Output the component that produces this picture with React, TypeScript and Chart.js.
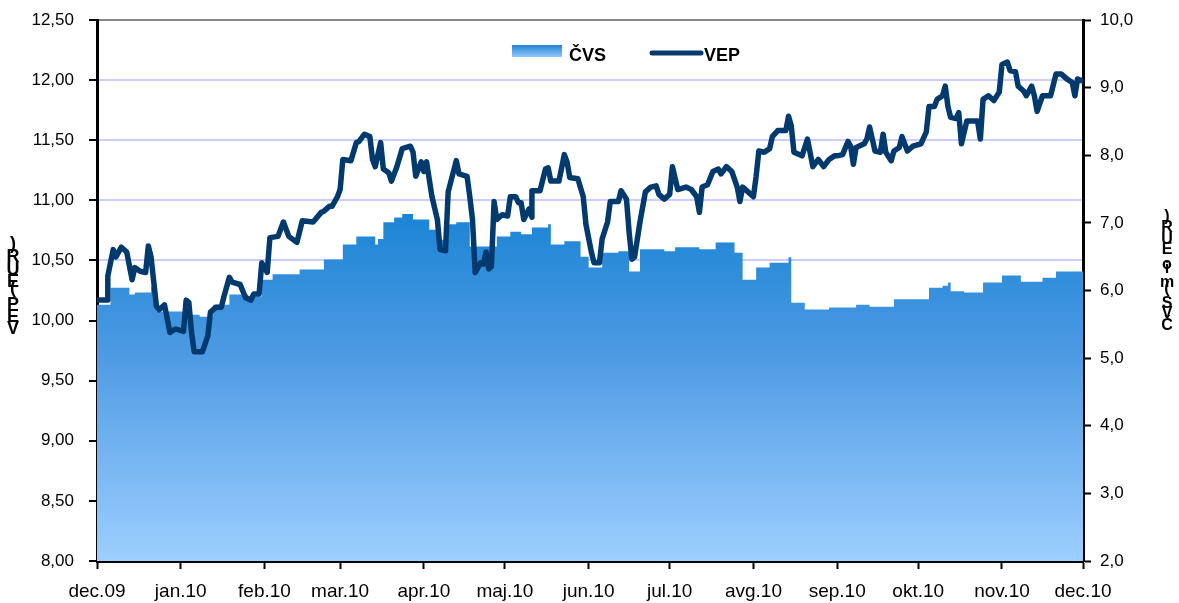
import React, { useEffect, useRef } from 'react';
import { Chart, registerables } from 'chart.js';

Chart.register(...registerables);

// Month tick positions (days since 1 Dec 2009) and labels
const monthDays = [0, 31, 62, 90, 121, 151, 182, 212, 243, 274, 304, 335, 365];
const monthLabels = ['dec.09', 'jan.10', 'feb.10', 'mar.10', 'apr.10', 'maj.10', 'jun.10', 'jul.10', 'avg.10', 'sep.10', 'okt.10', 'nov.10', 'dec.10'];

// VEP (EUR) – left axis
const vepDays = [0,4,4,6,7,9,11,13,14,16,18,19,20,22,23,25,27,29,32,33,34,35,36,39,41,42,44,46,47,49,50,53,55,57,58,60,61,63,64,67,69,71,74,76,80,83,84,86,87,89,90,91,94,96,97,99,101,102,103,105,106,108,109,111,113,116,117,118,120,121,122,124,126,127,129,130,133,134,137,138,139,140,142,143,144,145,146,147,148,150,152,153,155,156,157,158,160,161,161,164,166,167,168,171,173,174,175,178,180,181,183,184,186,187,189,190,193,194,196,197,198,199,201,203,205,207,208,210,212,213,215,218,220,222,223,224,226,228,230,231,233,235,237,238,239,241,243,244,245,247,249,250,252,255,256,257,258,261,263,265,267,269,271,273,274,276,278,279,280,281,284,285,286,287,288,290,291,292,294,295,297,298,300,302,305,307,308,310,311,313,314,315,316,318,319,320,322,324,326,327,328,330,332,334,335,337,338,340,341,343,344,346,347,348,350,353,355,357,359,361,362,363,365];
const vepValues = [10.17,10.17,10.37,10.59,10.53,10.61,10.57,10.34,10.44,10.41,10.40,10.62,10.53,10.12,10.09,10.13,9.90,9.93,9.91,10.17,10.15,9.90,9.74,9.74,9.87,10.07,10.11,10.11,10.20,10.36,10.32,10.30,10.19,10.17,10.22,10.22,10.48,10.40,10.69,10.70,10.82,10.70,10.65,10.83,10.82,10.90,10.91,10.95,10.95,11.03,11.09,11.34,11.33,11.48,11.49,11.55,11.53,11.34,11.28,11.48,11.26,11.23,11.16,11.28,11.43,11.45,11.40,11.20,11.32,11.24,11.32,11.03,10.84,10.59,10.58,11.07,11.33,11.22,11.20,11.03,10.84,10.40,10.48,10.47,10.57,10.43,10.45,10.99,10.84,10.88,10.87,11.03,11.03,10.98,10.98,10.84,10.93,10.86,11.08,11.08,11.26,11.27,11.16,11.16,11.38,11.32,11.19,11.18,11.03,10.80,10.57,10.48,10.48,10.68,10.82,10.99,10.99,11.08,11.01,10.73,10.51,10.53,10.82,11.07,11.11,11.12,11.05,11.01,11.05,11.28,11.09,11.11,11.09,11.03,10.90,11.11,11.13,11.24,11.26,11.22,11.28,11.24,11.11,10.99,11.11,11.07,11.03,11.20,11.41,11.40,11.43,11.53,11.58,11.58,11.70,11.62,11.40,11.37,11.51,11.28,11.34,11.28,11.34,11.37,11.37,11.38,11.49,11.45,11.30,11.44,11.47,11.51,11.61,11.51,11.41,11.40,11.55,11.40,11.33,11.41,11.44,11.53,11.41,11.45,11.47,11.57,11.78,11.78,11.84,11.87,11.95,11.78,11.69,11.68,11.73,11.47,11.66,11.66,11.66,11.51,11.84,11.87,11.83,11.90,12.13,12.15,12.08,12.07,11.95,11.91,11.87,11.95,11.87,11.74,11.87,11.87,12.05,12.05,12.01,11.98,11.87,12.01,11.99];

// ČVS (mio EUR) – right axis
const cvsDays = [0,5,12,14,20,22,34,38,43,49,56,61,65,75,84,91,96,103,104,106,110,113,117,123,126,130,133,138,148,153,157,161,167,168,173,179,182,187,193,197,201,210,214,223,229,236,239,244,249,256,257,262,271,281,286,295,308,313,315,316,321,328,335,342,350,355,365];
const cvsValues = [5.79,6.04,5.94,5.97,6.06,5.69,5.64,5.61,5.79,5.94,5.91,6.16,6.24,6.31,6.46,6.68,6.80,6.68,6.76,7.01,7.08,7.13,7.05,6.90,6.75,6.98,7.01,6.65,6.80,6.87,6.83,6.93,6.98,6.68,6.73,6.50,6.34,6.56,6.58,6.28,6.61,6.58,6.64,6.61,6.71,6.56,6.16,6.34,6.41,6.49,5.82,5.72,5.75,5.79,5.76,5.87,6.04,6.07,6.12,5.99,5.97,6.12,6.22,6.13,6.19,6.28,6.28];

const leftTitle = 'VEP (EUR)';
const rightTitle = 'ČVS (mio EUR)';
const seriesNames = ['ČVS', 'VEP'];

const FONT = '"Liberation Sans", Arial, sans-serif';
const LINE_COLOR = '#033a6e';

function stackedTitle(ctx: CanvasRenderingContext2D, text: string, cx: number, bottom: number, size: number) {
  ctx.save();
  ctx.font = `bold ${size}px ${FONT}`;
  ctx.fillStyle = '#000';
  ctx.textAlign = 'center';
  ctx.textBaseline = 'alphabetic';
  let y = bottom;
  for (const ch of Array.from(text)) {
    const w = ctx.measureText(ch).width;
    if (ch !== ' ') ctx.fillText(ch, cx, y);
    y -= w;
  }
  ctx.restore();
}

const decorPlugin = {
  id: 'decor',
  afterDraw(chart: any) {
    const ctx: CanvasRenderingContext2D = chart.ctx;
    // axis titles
    stackedTitle(ctx, leftTitle, 13, 334, 18);
    stackedTitle(ctx, rightTitle, 1167, 330, 16);
    // legend
    ctx.save();
    const g = ctx.createLinearGradient(0, 45, 0, 57);
    g.addColorStop(0, '#2283d5');
    g.addColorStop(1, '#93c8f6');
    ctx.fillStyle = g;
    ctx.fillRect(512, 45, 50, 12);
    ctx.font = `bold 18px ${FONT}`;
    ctx.fillStyle = '#000';
    ctx.textBaseline = 'alphabetic';
    ctx.textAlign = 'left';
    ctx.fillText(seriesNames[0], 569, 61);
    ctx.strokeStyle = LINE_COLOR;
    ctx.lineWidth = 5;
    ctx.lineCap = 'round';
    ctx.beginPath();
    ctx.moveTo(652, 53);
    ctx.lineTo(701, 53);
    ctx.stroke();
    ctx.fillText(seriesNames[1], 704, 61);
    ctx.restore();
  },
};

export default function App() {
  const ref = useRef<HTMLCanvasElement>(null);

  useEffect(() => {
    if (!ref.current) return;
    const vepData = vepDays.map((d, i) => ({ x: d, y: vepValues[i] }));
    const cvsData = cvsDays.map((d, i) => ({ x: d, y: cvsValues[i] }));

    const chart = new Chart(ref.current, {
      type: 'line',
      data: {
        datasets: [
          {
            label: seriesNames[1],
            data: vepData,
            yAxisID: 'y',
            borderColor: LINE_COLOR,
            borderWidth: 5.5,
            pointRadius: 0,
            tension: 0,
            fill: false,
            order: 0,
            borderJoinStyle: 'round',
            borderCapStyle: 'round',
          },
          {
            label: seriesNames[0],
            data: cvsData,
            yAxisID: 'y2',
            stepped: 'before',
            borderWidth: 0,
            borderColor: 'rgba(0,0,0,0)',
            pointRadius: 0,
            fill: 'start',
            order: 1,
            backgroundColor: (c: any) => {
              const area = c.chart.chartArea;
              if (!area) return '#3a8cdc';
              const g = c.chart.ctx.createLinearGradient(0, area.top, 0, area.bottom);
              g.addColorStop(0, '#0a78cc');
              g.addColorStop(0.36, '#1b85d5');
              g.addColorStop(0.6, '#4a98e2');
              g.addColorStop(1, '#9dcfff');
              return g;
            },
          },
        ],
      },
      options: {
        animation: false,
        responsive: false,
        events: [],
        layout: { padding: { top: 20, left: 0, right: 0, bottom: 0 } },
        plugins: { legend: { display: false }, tooltip: { enabled: false } },
        scales: {
          x: {
            type: 'linear',
            min: 0,
            max: 365,
            afterBuildTicks: (s: any) => {
              s.ticks = monthDays.map((v) => ({ value: v }));
            },
            afterFit: (s: any) => {
              s.height = 42;
              s.paddingLeft = 0;
              s.paddingRight = 0;
            },
            ticks: {
              autoSkip: false,
              maxRotation: 0,
              padding: 11,
              color: '#000',
              font: { family: FONT, size: 19 },
              callback: (_v: any, i: number) => monthLabels[i],
            },
            grid: {
              drawOnChartArea: false,
              tickLength: 8,
              tickWidth: 2,
              tickColor: '#000',
            },
            border: { display: true, color: '#000', width: 3 },
          },
          y: {
            position: 'left',
            min: 8,
            max: 12.5,
            afterFit: (s: any) => {
              s.width = 97;
              s.paddingTop = 0;
              s.paddingBottom = 0;
            },
            ticks: {
              stepSize: 0.5,
              padding: 15,
              color: '#000',
              font: { family: FONT, size: 17 },
              callback: (v: any) => Number(v).toFixed(2).replace('.', ','),
            },
            grid: {
              color: (c: any) => (c.tick && c.tick.value === 12.5 ? '#888888' : c.tick && c.tick.value === 8 ? 'rgba(0,0,0,0)' : '#ccccff'),
              lineWidth: 2,
              tickLength: 8,
              tickWidth: 2,
              tickColor: '#000',
            },
            border: { display: true, color: '#000', width: 3 },
          },
          y2: {
            position: 'right',
            min: 2,
            max: 10,
            afterFit: (s: any) => {
              s.width = 96;
              s.paddingTop = 0;
              s.paddingBottom = 0;
            },
            ticks: {
              stepSize: 1,
              padding: 9,
              color: '#000',
              font: { family: FONT, size: 17 },
              callback: (v: any) => Number(v).toFixed(1).replace('.', ','),
            },
            grid: {
              drawOnChartArea: false,
              tickLength: 8,
              tickWidth: 2,
              tickColor: '#000',
            },
            border: { display: true, color: '#000', width: 3 },
          },
        },
      },
      plugins: [decorPlugin],
    });
    return () => chart.destroy();
  }, []);

  return (
    <div style={{ position: 'absolute', left: 0, top: 0, width: 1179, height: 603, background: '#fff' }}>
      <canvas ref={ref} width={1179} height={603} style={{ display: 'block' }} />
    </div>
  );
}
